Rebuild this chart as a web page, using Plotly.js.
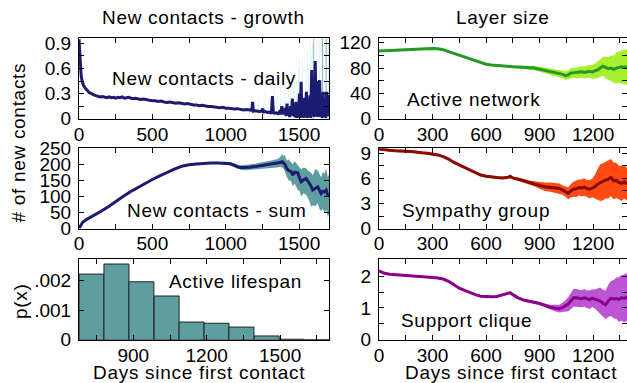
<!DOCTYPE html>
<html>
<head>
<meta charset="utf-8">
<script src="https://cdn.plot.ly/plotly-3.0.1.min.js"></script>
<style>
html,body{margin:0;padding:0;overflow:hidden;background:#fff}
.annotation-text{letter-spacing:0.7px}
</style>
</head>
<body>
<div id="chart" style="width:627px;height:383px"></div>
<script>
// ---------------- DATA ----------------
// Top-left: new contacts per day
const dailyDays = [0,3,6,10,15,20,25,30,40,50,60,70,80,90,100,
115,130,145,160,175,190,205,220,235,250,265,280,295,310,325,340,355,370,385,400,
420,440,460,480,500,520,540,560,580,600,620,640,660,680,700,720,740,760,780,800,820,840,860,880,900,920,940,960,980,1000,1020,1040,1060,1080,1100,1120,1140,1160,
1172,1178,1183,1188,1200,1215,1230,1245,1252,1258,1270,1285,1298,
1306,1312,1318,1325,1335,1345,1355,1365,1375,1382,1388,1394,
1400,1406,1412,1418,1424,1430,1436,1442,1448,1454,1460,1466,1472,1478,1484,1490,1496,1502,1508,1514,1520,1526,1532,1538,1544,1550,1556,1562,1568,1574,1580,1586,1592,1598,1604,1610,1616,1622,1628,1634,1640,1646,1652,1658,1664,1670,1676,1682,1688,1694,1700,1704];
const dailyNew = [0.95,0.82,0.70,0.60,0.51,0.46,0.42,0.40,0.37,0.35,0.33,0.31,0.305,0.29,0.285,
0.275,0.27,0.26,0.265,0.255,0.25,0.26,0.25,0.255,0.245,0.255,0.25,0.26,0.245,0.25,0.255,0.245,0.24,0.245,0.235,
0.23,0.235,0.225,0.22,0.215,0.215,0.205,0.21,0.2,0.195,0.2,0.19,0.185,0.19,0.18,0.175,0.18,0.17,0.165,0.165,0.155,0.16,0.15,0.145,0.145,0.14,0.135,0.13,0.135,0.125,0.125,0.12,0.115,0.12,0.11,0.105,0.11,0.1,
0.1,0.1,0.2,0.09,0.095,0.09,0.085,0.09,0.12,0.08,0.085,0.075,0.08,
0.07,0.08,0.27,0.07,0.065,0.07,0.06,0.08,0.055,0.15,0.05,0.1,
0.05,0.13,0.03,0.18,0.04,0.1,0.02,0.15,0.04,0.24,0.03,0.12,0.02,0.2,0.01,0.16,0.02,0.3,0.01,0.44,0.02,0.18,0.01,0.25,0.02,0.32,0.01,0.2,0.02,0.28,0.01,0.58,0.03,0.35,0.02,0.69,0.03,0.45,0.02,0.3,0.46,0.02,0.25,0.01,0.32,0.02,0.22,0.01,0.32,0.03,0.28,0.2];
// Top-left: error extents (light and strong)
const dailyErrDays = [1130,1160,1195,1225,1262,1290,1330,1350,1372,1398,1410,1428,1440,1462,1470,1485,1497,1505,1520,1525,1545,1556,1565,1577,1585,1593,1620,1628,1640,1655,1670,1690,1700];
const dailyErrTop  = [0.14,0.18,0.22,0.2,0.3,0.25,0.35,0.3,0.4,0.3,0.35,0.45,0.35,0.5,0.55,0.45,0.6,0.7,0.5,0.75,0.65,0.8,0.6,0.96,0.75,0.9,0.96,0.7,0.96,0.96,0.8,0.96,0.9];
const dailyErrStrongDays = [1600,1661,1684];
const dailyErrStrongTop  = [0.96,0.96,0.96];

// Middle-left: cumulative new contacts
const sumDays = [0,10,25,50,75,100,150,200,250,300,350,400,450,500,550,600,650,700,725,750,800,850,900,950,1000,1030,1060,1080,1100,1130,1160,1200,1230,1260,1290,1320,1350,1370,1385,1395,1404,1415,1430,1445,1457,1470,1491,1503,1514,1530,1548,1560,1571,1582,1593,1610,1627,1640,1650,1662,1673,1685,1696,1704];
const sumValues = [0,8,20,28,34,40,54,68,85,100,115,128,141,153,164,175,185,194,197,199,201,203,204,204,204,202,197,192,190,190,191,193,195,197,199,201,203,206,208,205,200,188,180,178,167,176,174,158,146,152,156,148,141,132,120,124,130,118,109,116,114,120,104,108];
const sumUpper = [1,10,22,30,36,42,56,70,87,102,117,130,143,155,166,177,187,196,199,201,203,205,206,207,208,207,203,199,197,198,199,202,205,207,210,213,216,222,232,226,228,212,215,205,200,210,198,190,185,190,188,180,178,175,165,185,182,168,160,178,170,188,160,170];
const sumLower = [0,6,18,26,32,38,52,66,83,98,113,126,139,151,162,173,183,192,195,197,199,201,202,201,200,197,191,185,183,182,183,184,185,187,188,189,190,192,190,186,178,162,150,148,132,140,120,118,100,110,105,95,85,68,72,70,78,60,55,62,50,58,36,45];

// Bottom-left: active lifespan histogram
const lifespanBinStart = [678,780,882,985,1087,1189,1291,1394,1496,1598];
const lifespanBinWidth = 102.2;
const lifespanDensity = [0.00222,0.00256,0.00196,0.00148,0.0006,0.00056,0.00043,0.00013,0.00002,0];

// Right column: layer sizes
const layerDays = [0,30,60,90,120,150,180,210,240,270,300,330,360,390,420,450,480,510,540,570,600,630,660,690,720,735,750,780,810,840,870,900,930,960,990,1010,1030,1045,1060,1075,1090,1105,1120,1135,1150,1165,1180,1195,1210,1225,1240,1255,1270,1285,1300,1315,1330,1345,1360,1375,1390];
const activeNetwork = [107,107.5,108,108.5,109,109.5,110,110.5,111,111,111,110.5,109,106,103,100,97,94,91,88,86,85,84,83,82.5,82,82,81.5,81,80.5,80,78,76,74,73,71,70,68,69,72,72.5,72,73,74,73,74,75,74,75,77,80,83,81,79,80,78,80,81,82,81,82];
const activeNetworkErr = [1.5,1.5,1.5,1.5,1.5,1.5,1.5,1.5,1.5,1.5,1.5,1.5,1.5,1.5,1.5,1.5,1.5,1.5,1.5,1.5,1.5,1.5,1.5,1.5,1.5,1.5,1.5,2,2.5,3,3.5,4,4.5,5,5.5,6,6.5,7,7,8,8,8.5,9,9,9.5,10,10,11,12,13,14,15,17,18,20,22,24,25,26,27,28];
const sympathyGroup = [9.5,9.4,9.35,9.3,9.3,9.25,9.2,9.1,9.05,9.0,8.9,8.8,8.6,8.3,7.9,7.6,7.25,6.95,6.65,6.4,6.25,6.15,6.1,6.05,6.1,6.25,6.05,5.9,5.7,5.5,5.35,5.15,5.0,4.95,4.85,4.8,4.6,4.4,4.2,4.5,4.7,4.75,4.9,4.85,4.95,4.8,4.7,4.85,5.0,5.3,5.5,5.6,5.8,5.9,6.1,5.7,5.75,5.5,5.4,5.6,5.3];
const sympathyGroupErr = [0.15,0.15,0.15,0.15,0.15,0.15,0.15,0.15,0.15,0.15,0.15,0.15,0.15,0.15,0.15,0.15,0.15,0.15,0.15,0.15,0.15,0.15,0.15,0.15,0.15,0.15,0.15,0.2,0.2,0.25,0.3,0.4,0.5,0.55,0.6,0.6,0.55,0.6,0.7,0.8,0.9,1.0,0.95,1.0,1.05,1.0,1.1,1.1,1.4,1.8,2.2,2.2,2.2,2.3,2.2,2.2,2.1,2.0,2.1,2.0,1.95];
const supportClique = [2.17,2.09,2.06,2.05,2.04,2.03,2.02,2.01,2.0,1.98,1.96,1.94,1.91,1.84,1.72,1.62,1.55,1.48,1.42,1.37,1.35,1.35,1.36,1.40,1.46,1.48,1.42,1.32,1.25,1.22,1.18,1.14,1.08,1.02,0.99,0.98,1.02,1.06,1.12,1.22,1.32,1.32,1.31,1.29,1.32,1.28,1.26,1.31,1.28,1.25,1.22,1.15,1.10,1.22,1.30,1.28,1.30,1.27,1.32,1.30,1.35];
const supportCliqueErr = [0.03,0.03,0.03,0.03,0.03,0.03,0.03,0.03,0.03,0.03,0.03,0.03,0.03,0.03,0.03,0.03,0.03,0.03,0.03,0.03,0.03,0.03,0.03,0.03,0.03,0.03,0.03,0.03,0.03,0.03,0.04,0.05,0.06,0.08,0.1,0.12,0.15,0.18,0.22,0.26,0.28,0.28,0.28,0.27,0.28,0.27,0.29,0.28,0.3,0.35,0.42,0.42,0.45,0.5,0.55,0.6,0.65,0.7,0.72,0.75,0.75];

// ---------------- PLOT ----------------
const W = 627, H = 383;
const FONT = 'Liberation Sans, Arial, Helvetica, sans-serif';
const FS = 19;
const xd = (a, b) => [a / W, b / W];
const yd = (top, bottom) => [1 - bottom / H, 1 - top / H];
const xL = xd(79, 329), xR = xd(379, 627);
const yT = yd(38.3, 118.7), yM = yd(148.3, 228.6), yB = yd(259.3, 339.8);

function band(x, v, e, ax, ay, color) {
  const lo = v.map((d, i) => d - e[i]);
  const hi = v.map((d, i) => d + e[i]);
  return [
    {x: x, y: lo, xaxis: ax, yaxis: ay, mode: 'lines', line: {width: 0, color: color}, hoverinfo: 'skip', showlegend: false},
    {x: x, y: hi, xaxis: ax, yaxis: ay, mode: 'lines', line: {width: 0, color: color}, fill: 'tonexty', fillcolor: color, hoverinfo: 'skip', showlegend: false}
  ];
}

const traces = [];
// top-left
traces.push({type: 'bar', x: dailyErrDays, y: dailyErrTop, width: 3, xaxis: 'x', yaxis: 'y', marker: {color: '#cfe7e7', line: {width: 0}}, showlegend: false});
traces.push({type: 'bar', x: dailyErrStrongDays, y: dailyErrStrongTop, width: 5, xaxis: 'x', yaxis: 'y', marker: {color: '#5f9ea0', line: {width: 0}}, showlegend: false});
traces.push({x: dailyDays, y: dailyNew, xaxis: 'x', yaxis: 'y', mode: 'lines', line: {color: '#1b1b72', width: 3}, showlegend: false});
// middle-left
traces.push({x: sumDays, y: sumLower, xaxis: 'x2', yaxis: 'y2', mode: 'lines', line: {width: 0, color: '#5f9ea0'}, showlegend: false});
traces.push({x: sumDays, y: sumUpper, xaxis: 'x2', yaxis: 'y2', mode: 'lines', line: {width: 0, color: '#5f9ea0'}, fill: 'tonexty', fillcolor: '#5f9ea0', showlegend: false});
traces.push({x: sumDays, y: sumValues, xaxis: 'x2', yaxis: 'y2', mode: 'lines', line: {color: '#1b1b72', width: 3}, showlegend: false});
// bottom-left histogram
traces.push({type: 'bar', x: lifespanBinStart.map(s => s + lifespanBinWidth / 2), y: lifespanDensity, width: lifespanBinWidth,
  xaxis: 'x3', yaxis: 'y3', marker: {color: '#5f9ea0', line: {color: '#222', width: 1}}, showlegend: false});
// right column
traces.push(...band(layerDays, activeNetwork, activeNetworkErr, 'x4', 'y4', '#a8f02e'));
traces.push({x: layerDays, y: activeNetwork, xaxis: 'x4', yaxis: 'y4', mode: 'lines', line: {color: '#249a24', width: 3}, showlegend: false});
traces.push(...band(layerDays, sympathyGroup, sympathyGroupErr, 'x5', 'y5', '#ff4a14'));
traces.push({x: layerDays, y: sympathyGroup, xaxis: 'x5', yaxis: 'y5', mode: 'lines', line: {color: '#8b0a00', width: 3}, showlegend: false});
traces.push(...band(layerDays, supportClique, supportCliqueErr, 'x6', 'y6', '#bb55d3'));
traces.push({x: layerDays, y: supportClique, xaxis: 'x6', yaxis: 'y6', mode: 'lines', line: {color: '#8b008b', width: 3}, showlegend: false});

function ax(extra, isX) {
  const base = {showline: true, linecolor: '#000', linewidth: 1, mirror: 'ticks', ticks: 'inside', ticklen: 5, tickwidth: 1,
    tickcolor: '#000', showgrid: false, zeroline: false, fixedrange: true, ticklabelstandoff: isX ? -2 : 3,
    tickfont: {family: FONT, size: FS, color: '#000'}};
  const o = Object.assign(base, extra);
  if (o.minor) o.minor = Object.assign({ticks: 'inside', ticklen: 5, tickcolor: '#000', tickwidth: 1, showgrid: false}, o.minor);
  return o;
}

const layout = {
  width: W, height: H, margin: {l: 0, r: 0, t: 0, b: 0}, paper_bgcolor: '#fff', plot_bgcolor: '#fff',
  barmode: 'overlay', showlegend: false, font: {family: FONT, size: FS, color: '#000'},
  xaxis: ax({domain: xL, anchor: 'y', range: [0, 1704], tick0: 0, dtick: 500, minor: {dtick: 250}}, true),
  yaxis: ax({domain: yT, anchor: 'x', range: [0, 0.96], tick0: 0, dtick: 0.3, minor: {dtick: 0.15}}),
  xaxis2: ax({domain: xL, anchor: 'y2', range: [0, 1704], tick0: 0, dtick: 500, minor: {dtick: 250}}, true),
  yaxis2: ax({domain: yM, anchor: 'x2', range: [0, 250], tick0: 0, dtick: 50}),
  xaxis3: ax({domain: xL, anchor: 'y3', range: [678, 1700], tick0: 900, dtick: 300, minor: {dtick: 150}}, true),
  yaxis3: ax({domain: yB, anchor: 'x3', range: [0, 0.00272], tickvals: [0, 0.001, 0.002], ticktext: ['0', '.001', '.002']}),
  xaxis4: ax({domain: xR, anchor: 'y4', range: [0, 1390], tick0: 0, dtick: 300, minor: {dtick: 150}}, true),
  yaxis4: ax({domain: yT, anchor: 'x4', range: [0, 127], tick0: 0, dtick: 40, minor: {dtick: 20}}),
  xaxis5: ax({domain: xR, anchor: 'y5', range: [0, 1390], tick0: 0, dtick: 300, minor: {dtick: 150}}, true),
  yaxis5: ax({domain: yM, anchor: 'x5', range: [0, 9.59], tick0: 0, dtick: 3, minor: {dtick: 1.5}}),
  xaxis6: ax({domain: xR, anchor: 'y6', range: [0, 1390], tick0: 0, dtick: 300, minor: {dtick: 150}}, true),
  yaxis6: ax({domain: yB, anchor: 'x6', range: [0, 2.53], tick0: 0, dtick: 1, minor: {dtick: 0.5}}),
  annotations: []
};

function label(text, px, py, angle) {
  layout.annotations.push({text: text, xref: 'paper', yref: 'paper', x: px / W, y: 1 - py / H,
    xanchor: 'center', yanchor: 'middle', showarrow: false, textangle: angle || 0,
    font: {family: FONT, size: FS, color: '#000'}});
}
label('New contacts - growth', 203, 17);
label('Layer size', 503, 17);
label('New contacts - daily', 203.5, 78);
label('New contacts - sum', 216, 210);
label('Active lifespan', 235, 281);
label('Active network', 473, 99);
label('Sympathy group', 475.5, 210);
label('Support clique', 466, 320);
label('Days since first contact', 198.5, 372);
label('Days since first contact', 511, 372);
label('# of new contacts', 18, 142.5, -90);
label('p(x)', 20, 301, -90);

Plotly.newPlot('chart', traces, layout, {staticPlot: true, displayModeBar: false});
</script>
</body>
</html>
